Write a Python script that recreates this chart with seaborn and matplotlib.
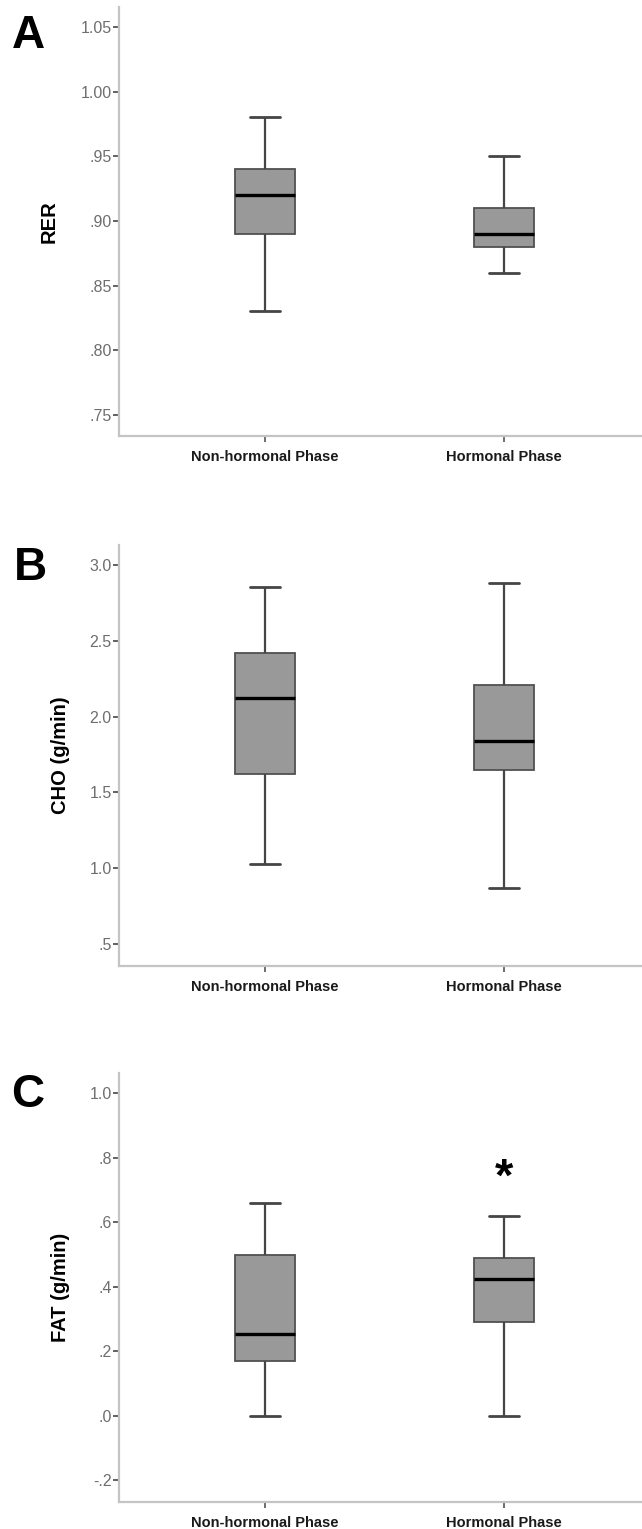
import numpy as np
import pandas as pd
import matplotlib
matplotlib.use("Agg")
import matplotlib.pyplot as plt
from matplotlib.ticker import FuncFormatter, FixedLocator
import seaborn as sns

# --- data (min, Q1, median, Q3, max) ---
categories = ["Non-hormonal Phase", "Hormonal Phase"]

rer_non = [0.83, 0.89, 0.92, 0.94, 0.98]
rer_hor = [0.86, 0.88, 0.89, 0.91, 0.95]

cho_non = [1.03, 1.62, 2.125, 2.42, 2.85]
cho_hor = [0.87, 1.65, 1.84, 2.21, 2.88]

fat_non = [0.00, 0.17, 0.255, 0.50, 0.66]
fat_hor = [0.00, 0.29, 0.425, 0.49, 0.62]

rer_ticks = [0.75, 0.80, 0.85, 0.90, 0.95, 1.00, 1.05]
cho_ticks = [0.5, 1.0, 1.5, 2.0, 2.5, 3.0]
fat_ticks = [-0.2, 0.0, 0.2, 0.4, 0.6, 0.8, 1.0]

panels = [
    ("A", "RER", rer_non, rer_hor, rer_ticks, 2, (0.7336, 1.0654)),
    ("B", "CHO (g/min)", cho_non, cho_hor, cho_ticks, 1, (0.357, 3.13)),
    ("C", "FAT (g/min)", fat_non, fat_hor, fat_ticks, 1, (-0.266, 1.064)),
]

sns.set_style("white")
plt.rcParams["font.family"] = ["Liberation Sans", "DejaVu Sans"]


def spss_fmt(decimals):
    # SPSS style: drop the leading zero (".90", "-.2")
    def f(v, pos):
        s = f"{v:.{decimals}f}"
        if s.startswith("0."):
            s = s[1:]
        elif s.startswith("-0."):
            s = "-" + s[2:]
        return s
    return FuncFormatter(f)


fig = plt.figure(figsize=(6.42, 15.29), dpi=100)

# axes boxes in figure fractions (left, bottom, width, height)
rects = [
    (0.1861, 0.7148, 0.8139, 0.2806),
    (0.1861, 0.3682, 0.8139, 0.2754),
    (0.1861, 0.0179, 0.8139, 0.2805),
]
letter_pos = [(0.018, 0.991), (0.022, 0.643), (0.018, 0.298)]
label_x = [-0.116, -0.095, -0.095]

for i, (letter, ylab, v_non, v_hor, ticks, dec, ylim) in enumerate(panels):
    ax = fig.add_axes(rects[i])
    df = pd.DataFrame({
        "phase": [categories[0]] * len(v_non) + [categories[1]] * len(v_hor),
        "value": v_non + v_hor,
    })
    sns.boxplot(
        data=df, x="phase", y="value", order=categories, ax=ax,
        width=0.25, whis=(0, 100), color="#999999", saturation=1,
        linecolor="#505050", linewidth=1.3,
        medianprops={"color": "black", "linewidth": 2.4},
        whiskerprops={"color": "#454545", "linewidth": 1.6},
        capprops={"color": "#454545", "linewidth": 2.0},
    )
    ax.set_xlim(-0.609, 1.577)
    ax.set_ylim(*ylim)
    ax.yaxis.set_major_locator(FixedLocator(ticks))
    ax.yaxis.set_major_formatter(spss_fmt(dec))

    for side in ["top", "right"]:
        ax.spines[side].set_visible(False)
    for side in ["left", "bottom"]:
        ax.spines[side].set_color("#c4c4c4")
        ax.spines[side].set_linewidth(1.6)

    ax.tick_params(axis="y", direction="out", length=4.5, width=1.3,
                   color="#555555", labelcolor="#6e6e6e", labelsize=11.5, pad=1,
                   left=True)
    ax.tick_params(axis="x", direction="out", length=4, width=1.2,
                   color="#555555", labelcolor="#1a1a1a", labelsize=10.5, pad=6,
                   bottom=True)
    for lab in ax.get_xticklabels():
        lab.set_fontweight("bold")

    ax.set_xlabel("")
    ax.set_ylabel(ylab, fontsize=14.5, fontweight="bold", color="black")
    ax.yaxis.set_label_coords(label_x[i], 0.5)

    fig.text(letter_pos[i][0], letter_pos[i][1], letter, fontsize=33,
             fontweight="bold", ha="left", va="top", color="black")

    if letter == "C":
        ax.text(1, 0.735, "*", ha="center", va="center", fontsize=34,
                fontweight="bold", color="black")

fig.savefig("out.png", dpi=100)
